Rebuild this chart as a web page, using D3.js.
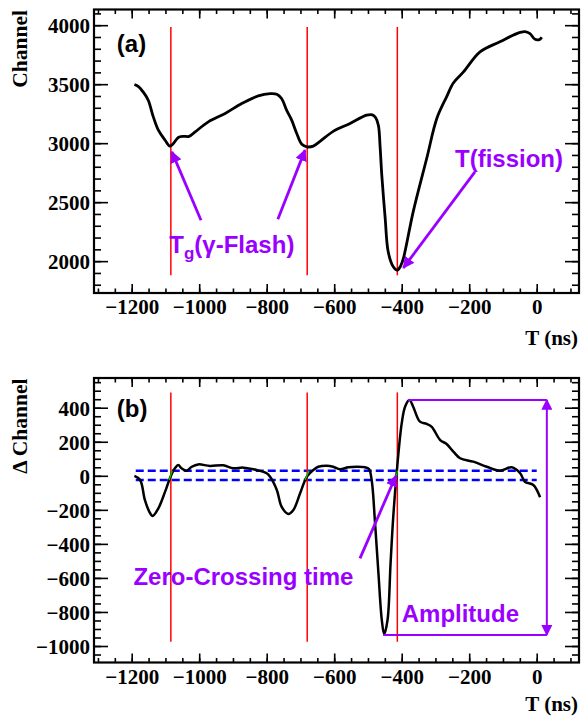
<!DOCTYPE html>
<html><head><meta charset="utf-8">
<script src="https://cdn.jsdelivr.net/npm/d3@7"></script>
<style>body{margin:0;background:#fff}svg{display:block}</style>
</head><body><svg id="c" width="581" height="717"></svg>
<script>
// ---- data ----
const timeA = [-1192,-1180,-1165,-1151,-1136,-1121,-1101,-1087,-1077,-1062,-1047,-1030,-1012,-973,-923,-874,-825,-790,-770,-756,-741,-726,-711,-696,-681,-662,-642,-603,-553,-504,-487,-477,-469,-464,-459,-449,-440,-425,-413,-403,-395,-366,-326,-296,-267,-247,-217,-168,-109,-59,-35,-20,-5,8,15];
const channelA = [3497,3480,3430,3364,3223,3110,3025,2975,2995,3048,3058,3058,3096,3181,3252,3336,3401,3420,3415,3379,3280,3195,3082,2990,2969,2975,3015,3100,3167,3237,3240,3215,3150,2969,2729,2364,2079,1952,1924,1960,2023,2418,2870,3209,3393,3510,3604,3774,3859,3929,3945,3929,3880,3878,3898];

const timeB = [-1192,-1175,-1161,-1148,-1138,-1121,-1101,-1085,-1072,-1062,-1052,-1037,-1022,-1003,-968,-929,-899,-869,-830,-800,-790,-770,-756,-736,-721,-701,-681,-662,-647,-622,-603,-583,-558,-533,-509,-497,-489,-479,-469,-459,-452,-442,-433,-425,-415,-400,-390,-377,-366,-346,-326,-311,-286,-267,-247,-227,-188,-148,-109,-74,-49,-35,-10,10];
const deltaB = [-1,-25,-142,-210,-236,-191,-93,-5,44,63,44,30,53,67,58,62,44,48,34,15,-5,-83,-181,-224,-201,-103,-5,34,53,59,53,38,50,53,50,40,-25,-277,-571,-847,-930,-847,-514,-240,15,308,406,445,406,318,305,288,210,187,142,103,83,53,30,50,15,-35,-54,-126];

const markerTimes = [-1084, -680, -413];          // red vertical lines
const thresholds = [30, -25];                      // blue dashed levels
const thresholdRange = [-1188, 0];
const crossings = [[-1089,-1080],[-686,-675],[-417,-413]]; // green fit segments (T at -25, T at +30)
const amplitude = {tTop:-381, vTop:446, tBot:-455, vBot:-935, tArrow:30};

const xMajor = [-1200,-1000,-800,-600,-400,-200,0];
const xMinor = d3.range(-1300, 101, 50);
const yMajorA = [2000,2500,3000,3500,4000];
const yMinorA = d3.range(1800, 4101, 100);
const yMajorB = [-1000,-800,-600,-400,-200,0,200,400];
const yMinorB = d3.range(-1050, 551, 50);

// ---- layout ----
const svg = d3.select("#c");
const L = 94, R = 579;
const panels = [
  {top: 9.5, bottom: 293, ydom: [1730, 4133], major: yMajorA, minor: yMinorA, ytitle: "Channel", tBase: 345},
  {top: 378, bottom: 662.5, ydom: [-1096.9, 574.6], major: yMajorB, minor: yMinorB, ytitle: "\u0394 Channel", tBase: 711}
];
const x = d3.scaleLinear().domain([-1311.7, 125.3]).range([L, R]);
const purple = "#9a00ff";
const serif = "'Liberation Serif','Times New Roman',serif";
const sans = "'Liberation Sans',Arial,sans-serif";
const fmt = d3.format("d");

const defs = svg.append("defs");
function mk(id, orient, size){
  defs.append("marker").attr("id", id).attr("viewBox","0 0 10 10").attr("refX", 9).attr("refY", 5)
    .attr("markerWidth", size).attr("markerHeight", size).attr("markerUnits","strokeWidth").attr("orient", orient)
    .append("path").attr("d","M0,0 L10,5 L0,10 Z").attr("fill", purple);
}
mk("ah","auto",4.2); mk("ah2","auto-start-reverse",5.5);

panels.forEach((p, i) => {
  const y = d3.scaleLinear().domain(p.ydom).range([p.bottom, p.top]);
  p.y = y;
  const g = svg.append("g");
  const styleAxis = sel => { sel.select(".domain").remove(); sel.selectAll("line").attr("stroke","#000").attr("stroke-width",1.6); };
  // x axes
  g.append("g").attr("transform",`translate(0,${p.bottom})`)
    .call(d3.axisBottom(x).tickValues(xMinor).tickSize(-4.5).tickFormat("")).call(styleAxis);
  const xa = g.append("g").attr("transform",`translate(0,${p.bottom})`)
    .call(d3.axisBottom(x).tickValues(xMajor).tickSize(-9).tickFormat(fmt)).call(styleAxis);
  xa.selectAll("text").attr("y", 21).attr("dy", 0).attr("font-family", serif).attr("font-weight","bold").attr("font-size", 21).attr("fill","#000");
  g.append("g").attr("transform",`translate(0,${p.top})`)
    .call(d3.axisTop(x).tickValues(xMinor).tickSize(-4.5).tickFormat("")).call(styleAxis);
  g.append("g").attr("transform",`translate(0,${p.top})`)
    .call(d3.axisTop(x).tickValues(xMajor).tickSize(-9).tickFormat("")).call(styleAxis);
  // y axes
  g.append("g").attr("transform",`translate(${L},0)`)
    .call(d3.axisLeft(y).tickValues(p.minor).tickSize(-7).tickFormat("")).call(styleAxis);
  const ya = g.append("g").attr("transform",`translate(${L},0)`)
    .call(d3.axisLeft(y).tickValues(p.major).tickSize(-14).tickPadding(4).tickFormat(fmt)).call(styleAxis);
  ya.selectAll("text").attr("font-family", serif).attr("font-weight","bold").attr("font-size", 21).attr("fill","#000").attr("dy","0.36em");
  g.append("g").attr("transform",`translate(${R},0)`)
    .call(d3.axisRight(y).tickValues(p.minor).tickSize(-7).tickFormat("")).call(styleAxis);
  g.append("g").attr("transform",`translate(${R},0)`)
    .call(d3.axisRight(y).tickValues(p.major).tickSize(-14).tickFormat("")).call(styleAxis);
  // frame
  g.append("rect").attr("x", L).attr("y", p.top).attr("width", R-L).attr("height", p.bottom-p.top)
    .attr("fill","none").attr("stroke","#000").attr("stroke-width",2.2);
  // titles
  g.append("text").attr("transform",`translate(27,${p.top+0.5}) rotate(-90)`).attr("text-anchor","end")
    .attr("font-family", serif).attr("font-weight","bold").attr("font-size", 21.5).text(p.ytitle);
  g.append("text").attr("x", 578).attr("y", p.tBase).attr("text-anchor","end")
    .attr("font-family", serif).attr("font-weight","bold").attr("font-size", 21).text("T (ns)");
});

// ---- panel (a) ----
const pa = panels[0], ya = pa.y;
const ga = svg.append("g");
ga.selectAll(".red").data(markerTimes).join("line")
  .attr("x1", d => x(d)).attr("x2", d => x(d)).attr("y1", ya(3985)).attr("y2", ya(1880))
  .attr("stroke","#ff0000").attr("stroke-width",1.5);
ga.append("path").datum(d3.zip(timeA, channelA))
  .attr("d", d3.line().x(d => x(d[0])).y(d => ya(d[1])).curve(d3.curveCatmullRom.alpha(0.5)))
  .attr("fill","none").attr("stroke","#000").attr("stroke-width",2.8).attr("stroke-linejoin","round");
ga.append("text").attr("x", x(-1244)).attr("y", ya(3774)).attr("font-family", sans).attr("font-weight","bold").attr("font-size", 24).text("(a)");
const arrowsA = [[-994.7,2347,-1081,2926],[-767,2356,-686.5,2941],[-183,2757,-395,1943]];
ga.selectAll(".arr").data(arrowsA).join("line")
  .attr("x1", d => x(d[0])).attr("y1", d => ya(d[1])).attr("x2", d => x(d[2])).attr("y2", d => ya(d[3]))
  .attr("stroke", purple).attr("stroke-width", 2.8).attr("marker-end","url(#ah)");
const tg = ga.append("text").attr("x", x(-1088.6)).attr("y", ya(2068)).attr("font-family", sans).attr("font-weight","bold").attr("font-size", 24).attr("fill", purple);
tg.append("tspan").text("T");
tg.append("tspan").attr("font-size", 17).attr("dy", 6).text("g");
tg.append("tspan").attr("dy", -6).text("(\u03b3-Flash)");
ga.append("text").attr("x", x(-242)).attr("y", ya(2799)).attr("font-family", sans).attr("font-weight","bold").attr("font-size", 24).attr("fill", purple).text("T(fission)");

// ---- panel (b) ----
const pb = panels[1], yb = pb.y;
const gb = svg.append("g");
gb.selectAll(".thr").data(thresholds).join("line")
  .attr("x1", x(thresholdRange[0])).attr("x2", x(thresholdRange[1])).attr("y1", d => yb(d)).attr("y2", d => yb(d))
  .attr("stroke","#0000ff").attr("stroke-width",2.4).attr("stroke-dasharray","8,4");
gb.selectAll(".red").data(markerTimes).join("line")
  .attr("x1", d => x(d)).attr("x2", d => x(d)).attr("y1", yb(490)).attr("y2", yb(-975))
  .attr("stroke","#ff0000").attr("stroke-width",1.5);
gb.append("path").datum(d3.zip(timeB, deltaB))
  .attr("d", d3.line().x(d => x(d[0])).y(d => yb(d[1])).curve(d3.curveCatmullRom.alpha(0.5)))
  .attr("fill","none").attr("stroke","#000").attr("stroke-width",2.5).attr("stroke-linejoin","round");
gb.selectAll(".grn").data(crossings).join("line")
  .attr("x1", d => x(d[0])).attr("y1", yb(-25)).attr("x2", d => x(d[1])).attr("y2", yb(30))
  .attr("stroke","#00cc00").attr("stroke-width",1.3);
gb.append("text").attr("x", x(-1244)).attr("y", yb(346)).attr("font-family", sans).attr("font-weight","bold").attr("font-size", 24).text("(b)");
// amplitude
gb.append("line").attr("x1", x(amplitude.tTop)).attr("x2", x(amplitude.tArrow)).attr("y1", yb(amplitude.vTop)).attr("y2", yb(amplitude.vTop))
  .attr("stroke", purple).attr("stroke-width", 2);
gb.append("line").attr("x1", x(amplitude.tBot)).attr("x2", x(amplitude.tArrow)).attr("y1", yb(amplitude.vBot)).attr("y2", yb(amplitude.vBot))
  .attr("stroke", purple).attr("stroke-width", 2);
gb.append("line").attr("x1", x(amplitude.tArrow)).attr("x2", x(amplitude.tArrow)).attr("y1", yb(amplitude.vTop)).attr("y2", yb(amplitude.vBot))
  .attr("stroke", purple).attr("stroke-width", 2).attr("marker-start","url(#ah2)").attr("marker-end","url(#ah2)");
gb.append("line").attr("x1", x(-523.6)).attr("y1", yb(-485)).attr("x2", x(-417)).attr("y2", yb(0))
  .attr("stroke", purple).attr("stroke-width", 2.8).attr("marker-end","url(#ah)");
gb.append("text").attr("x", x(-1195)).attr("y", yb(-641)).attr("font-family", sans).attr("font-weight","bold").attr("font-size", 24).attr("fill", purple).text("Zero-Crossing time");
gb.append("text").attr("x", x(-400)).attr("y", yb(-857)).attr("font-family", sans).attr("font-weight","bold").attr("font-size", 24).attr("fill", purple).text("Amplitude");
</script></body></html>
